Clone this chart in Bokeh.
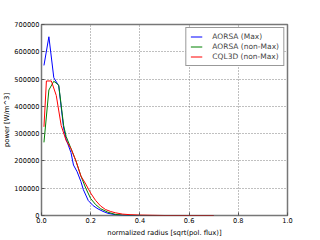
from bokeh.plotting import figure
from bokeh.embed import file_html
from bokeh.resources import INLINE
from bokeh.models import Legend, LegendItem, NumeralTickFormatter, BasicTickFormatter, FixedTicker, Range1d

# AORSA (Max)
x_aorsa_max = [0.01, 0.03, 0.05, 0.07, 0.09, 0.10, 0.12, 0.13, 0.145, 0.16, 0.17, 0.19, 0.21, 0.23, 0.25, 0.27, 0.30, 0.33, 0.36, 0.45, 0.6, 0.7]
y_aorsa_max = [550000, 655000, 505000, 475000, 320000, 280000, 230000, 185000, 160000, 125000, 95000, 55000, 36000, 24000, 15000, 8000, 3000, 1000, 0, 0, 0, 0]

# AORSA (non-Max)
x_aorsa_nonmax = [0.01, 0.03, 0.05, 0.07, 0.09, 0.10, 0.12, 0.14, 0.16, 0.18, 0.20, 0.22, 0.24, 0.27, 0.30, 0.33, 0.36, 0.45, 0.7]
y_aorsa_nonmax = [268000, 460000, 492000, 478000, 330000, 290000, 245000, 200000, 145000, 100000, 62000, 40000, 25000, 12000, 4000, 1500, 500, 0, 0]

# CQL3D (non-Max)
x_cql3d = [0.01, 0.02, 0.04, 0.06, 0.08, 0.10, 0.12, 0.14, 0.16, 0.18, 0.20, 0.22, 0.24, 0.26, 0.28, 0.30, 0.33, 0.36, 0.40, 0.45, 0.5, 0.7]
y_cql3d = [325000, 493000, 493000, 440000, 330000, 275000, 245000, 200000, 145000, 115000, 82000, 55000, 35000, 22000, 15000, 10000, 5000, 3000, 1500, 800, 0, 0]

x_ticks = [0.0, 0.2, 0.4, 0.6, 0.8, 1.0]
y_ticks = [0, 100000, 200000, 300000, 400000, 500000, 600000, 700000]

FONT = "DejaVu Sans"

p = figure(width=320, height=240, output_backend="svg", toolbar_location=None,
           x_range=Range1d(0, 1), y_range=Range1d(0, 700000),
           min_border_left=40, min_border_right=33, min_border_top=24, min_border_bottom=25)
p.background_fill_color = "white"
p.border_fill_color = "white"
p.outline_line_color = "#777777"
p.outline_line_width = 1.5

lb = p.line(x_aorsa_max, y_aorsa_max, line_color="#0000ff", line_width=1)
lg = p.line(x_aorsa_nonmax, y_aorsa_nonmax, line_color="#008000", line_width=1)
lr = p.line(x_cql3d, y_cql3d, line_color="#ff0000", line_width=1)

for ax in (p.xaxis[0], p.yaxis[0]):
    ax.axis_line_color = None
    ax.major_tick_in = 3
    ax.major_tick_out = 0
    ax.minor_tick_line_color = None
    ax.major_tick_line_color = "#555555"
    ax.major_label_text_font = FONT
    ax.major_label_text_font_size = "6.6px"
    ax.major_label_text_color = "black"
    ax.axis_label_text_font = FONT
    ax.axis_label_text_font_size = "6.8px"
    ax.axis_label_text_font_style = "normal"
    ax.axis_label_text_color = "black"
    ax.major_label_standoff = 2
    ax.axis_label_standoff = 3

p.yaxis.major_label_standoff = 2
p.yaxis.axis_label_standoff = 0

p.xaxis.ticker = FixedTicker(ticks=x_ticks)
p.yaxis.ticker = FixedTicker(ticks=y_ticks)
p.xaxis.formatter = NumeralTickFormatter(format="0.0")
p.yaxis.formatter = BasicTickFormatter(use_scientific=False)
p.xaxis.axis_label = "normalized radius [sqrt(pol. flux)]"
p.yaxis.axis_label = "power [W/m^3]"

p.grid.grid_line_color = "#808080"
p.grid.grid_line_dash = "1 2"
p.grid.grid_line_width = 1

legend = Legend(items=[
    LegendItem(label="AORSA (Max)", renderers=[lb]),
    LegendItem(label="AORSA (non-Max)", renderers=[lg]),
    LegendItem(label="CQL3D (non-Max)", renderers=[lr]),
], location="top_right")
legend.label_text_font = FONT
legend.label_text_font_size = "7.5px"
legend.label_height = 9
legend.glyph_height = 9
legend.glyph_width = 12
legend.label_standoff = 10
legend.spacing = 1
legend.padding = 4
legend.margin = 3
legend.border_line_color = "#333333"
legend.border_line_width = 1
legend.background_fill_alpha = 1
p.add_layout(legend)

open("out.html", "w").write(file_html(p, INLINE))
